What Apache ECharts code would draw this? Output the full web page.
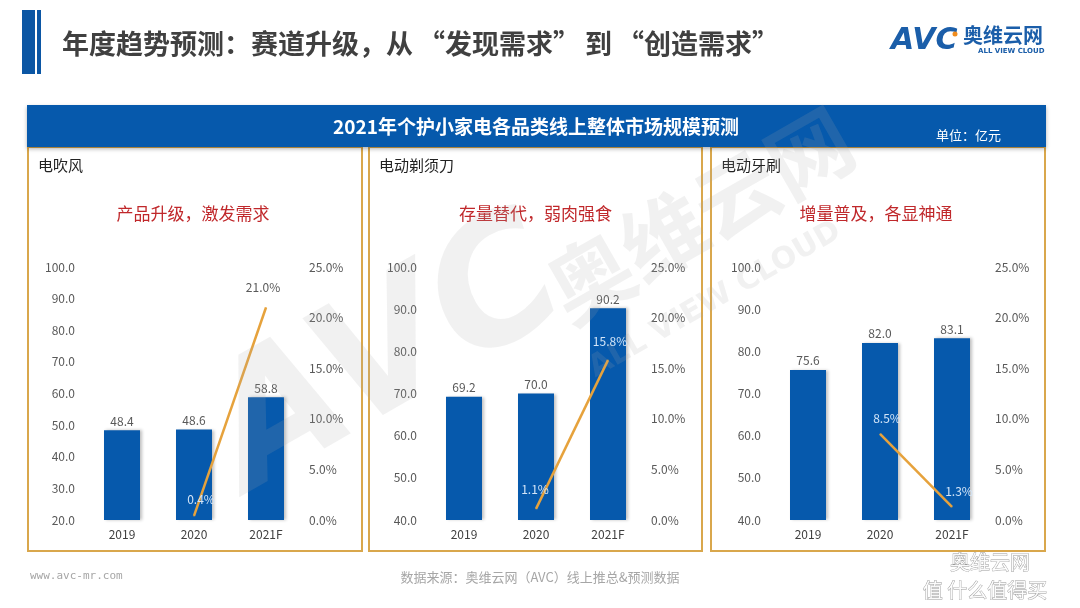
<!DOCTYPE html>
<html><head><meta charset="utf-8">
<script src="https://cdn.jsdelivr.net/npm/echarts@6/dist/echarts.min.js"></script>
<style>html,body{margin:0;padding:0;background:#fff}#c{width:1080px;height:608px}</style>
</head><body><div id="c"></div>
<script>
const categories = ['2019', '2020', '2021F'];
const dryerSales = [48.4, 48.6, 58.8];
const dryerGrowth = [null, 0.4, 21.0];
const shaverSales = [69.2, 70.0, 90.2];
const shaverGrowth = [null, 1.1, 15.8];
const brushSales = [75.6, 82.0, 83.1];
const brushGrowth = [null, 8.5, 1.3];
const panelNames = ['电吹风', '电动剃须刀', '电动牙刷'];
const panelSlogans = ['产品升级，激发需求', '存量替代，弱肉强食', '增量普及，各显神通'];
const leftAxisMin = [20, 40, 40];
const leftAxisMax = 100;
const rightAxisMax = 25;

const FONT = '"Noto Sans CJK SC", "Noto Sans", sans-serif';
const BLUE = '#0659ac';
const ORANGE = '#e6a23c';
const GOLD = '#d9a74c';

const sales = [dryerSales, shaverSales, brushSales];
const growth = [dryerGrowth, shaverGrowth, brushGrowth];
const gridLeft = [86, 428, 772];
// per-point label styling for growth line (placement only)
const IN = '#d3e5f8';
const lineLabelCfg = [
  [null, {color: IN, offset: [7, -5]}, {color: '#595959', offset: [-3, -9]}],
  [null, {color: IN, offset: [-1, -8]}, {color: IN, offset: [2, -7]}],
  [null, {color: IN, offset: [7, -4]}, {color: IN, offset: [7, -4]}]
];

const grids = [], xAxes = [], yAxes = [], series = [];
for (let i = 0; i < 3; i++) {
  grids.push({left: gridLeft[i], width: 216, top: 267, height: 253});
  xAxes.push({
    type: 'category', gridIndex: i, data: categories,
    axisLine: {show: false}, axisTick: {show: false},
    axisLabel: {color: '#404040', fontSize: 12, margin: 8, fontFamily: FONT}
  });
  yAxes.push({
    type: 'value', gridIndex: i, min: leftAxisMin[i], max: leftAxisMax, interval: 10,
    axisLine: {show: false}, axisTick: {show: false}, splitLine: {show: false},
    axisLabel: {color: '#595959', fontSize: 12, margin: 11, fontFamily: FONT,
      formatter: v => v.toFixed(1)}
  });
  yAxes.push({
    type: 'value', gridIndex: i, position: 'right', min: 0, max: rightAxisMax, interval: 5,
    axisLine: {show: false}, axisTick: {show: false}, splitLine: {show: false},
    axisLabel: {color: '#595959', fontSize: 12, margin: 7, fontFamily: FONT,
      formatter: v => v.toFixed(1) + '%'}
  });
  series.push({
    type: 'bar', xAxisIndex: i, yAxisIndex: i * 2, data: sales[i], barWidth: 36,
    itemStyle: {color: BLUE, shadowColor: 'rgba(0,0,0,0.25)', shadowBlur: 3, shadowOffsetX: 2, shadowOffsetY: 0},
    label: {show: true, position: 'top', distance: 3, color: '#595959', fontSize: 12, fontFamily: FONT,
      formatter: p => p.value.toFixed(1)}
  });
  series.push({
    type: 'line', xAxisIndex: i, yAxisIndex: i * 2 + 1, z: 5,
    data: growth[i].map((v, j) => v === null ? null : {
      value: v,
      label: {color: lineLabelCfg[i][j].color, offset: lineLabelCfg[i][j].offset}
    }),
    symbol: 'circle', symbolSize: 1, showSymbol: true,
    itemStyle: {color: ORANGE},
    lineStyle: {color: ORANGE, width: 2.5},
    label: {show: true, position: 'top', fontSize: 12, fontFamily: FONT,
      formatter: p => Number(p.value).toFixed(1) + '%'}
  });
}

const panelX = [[28, 362], [369, 702], [711, 1045]];
const graphic = [];
// page title
graphic.push({type: 'rect', shape: {x: 22, y: 10, width: 13, height: 64}, style: {fill: '#0b56a4'}});
graphic.push({type: 'rect', shape: {x: 37, y: 10, width: 4, height: 64}, style: {fill: '#0b56a4'}});
const TF = 'bold 27px ' + FONT;
graphic.push({type: 'text', x: 62, y: 44, style: {
  text: '年度趋势预测：赛道升级，从{ql|“}发现需求{qr|”}到{ql|“}创造需求{qr|”}',
  font: TF, fill: '#404040', textVerticalAlign: 'middle',
  rich: {ql: {padding: [0, 0, 0, 5], font: TF, fill: '#404040'},
         qr: {padding: [0, 5, 0, 0], font: TF, fill: '#404040'}}}});
// logo
graphic.push({type: 'text', left: 891, top: 26, style: {text: 'AVC', font: 'italic bold 30px "DejaVu Sans", sans-serif', fill: '#1b5ea9'}});
graphic.push({type: 'circle', shape: {cx: 955, cy: 34, r: 2.5}, style: {fill: '#f08c1e'}});
graphic.push({type: 'text', left: 963, top: 25, style: {text: '奥维云网', font: 'bold 20px ' + FONT, fill: '#1b5ea9'}});
graphic.push({type: 'text', left: 978, top: 48, style: {text: 'ALL VIEW CLOUD', font: 'bold 7px "DejaVu Sans", sans-serif', fill: '#1b5ea9'}});
// banner
graphic.push({type: 'rect', shape: {x: 27, y: 105, width: 1019, height: 42},
  style: {fill: '#0659ac', shadowColor: 'rgba(0,0,0,0.3)', shadowBlur: 4, shadowOffsetY: 2}});
graphic.push({type: 'text', x: 536, y: 127, style: {text: '2021年个护小家电各品类线上整体市场规模预测',
  font: 'bold 19px ' + FONT, fill: '#ffffff', textAlign: 'center', textVerticalAlign: 'middle'}});
graphic.push({type: 'text', x: 936, y: 135, style: {text: '单位：亿元',
  font: '13px ' + FONT, fill: '#ffffff', textAlign: 'left', textVerticalAlign: 'middle'}});
// panels
const sloganShift = [-2, 0, -2];
for (let i = 0; i < 3; i++) {
  const [x0, x1] = panelX[i];
  graphic.push({type: 'rect', z: -1, shape: {x: x0, y: 147, width: x1 - x0, height: 404},
    style: {fill: 'none', stroke: GOLD, lineWidth: 2}});
  graphic.push({type: 'text', x: x0 + 10, y: 165, style: {text: panelNames[i],
    font: '15px ' + FONT, fill: '#222222', textAlign: 'left', textVerticalAlign: 'middle'}});
  graphic.push({type: 'text', x: (x0 + x1) / 2 + sloganShift[i], y: 214, style: {text: panelSlogans[i],
    font: '17px ' + FONT, fill: '#c0282b', textAlign: 'center', textVerticalAlign: 'middle'}});
}
// watermark
const WM = 'rgba(170,170,170,0.16)';
graphic.push({type: 'text', x: 390, y: 360, rotation: 0.52, z: 100, style: {text: 'AVC',
  font: 'italic bold 170px "DejaVu Sans", sans-serif', fill: WM, textAlign: 'center', textVerticalAlign: 'middle'}});
graphic.push({type: 'text', x: 700, y: 215, rotation: 0.52, z: 100, style: {text: '奥维云网',
  font: 'bold 84px ' + FONT, fill: WM, textAlign: 'center', textVerticalAlign: 'middle'}});
graphic.push({type: 'text', x: 715, y: 300, rotation: 0.52, z: 100, style: {text: 'ALL VIEW CLOUD',
  font: 'bold 30px "DejaVu Sans", sans-serif', fill: WM, textAlign: 'center', textVerticalAlign: 'middle'}});
// footer
graphic.push({type: 'text', x: 30, y: 576, style: {text: 'www.avc-mr.com',
  font: '11px "DejaVu Sans Mono", monospace', fill: '#a6a6a6', textAlign: 'left', textVerticalAlign: 'middle'}});
graphic.push({type: 'text', x: 540, y: 577, style: {text: '数据来源：奥维云网（AVC）线上推总&预测数据',
  font: '13px ' + FONT, fill: '#a6a6a6', textAlign: 'center', textVerticalAlign: 'middle'}});
graphic.push({type: 'text', x: 990, y: 562, style: {text: '奥维云网',
  font: '20px ' + FONT, fill: 'rgba(255,255,255,0.9)', stroke: '#9a9a9a', lineWidth: 0.8, textAlign: 'center', textVerticalAlign: 'middle'}});
graphic.push({type: 'text', x: 985, y: 590, style: {text: '值 什么值得买',
  font: '20px ' + FONT, fill: 'rgba(255,255,255,0.9)', stroke: '#9a9a9a', lineWidth: 0.8, textAlign: 'center', textVerticalAlign: 'middle'}});

const chart = echarts.init(document.getElementById('c'), null, {renderer: 'canvas'});
chart.setOption({
  backgroundColor: '#ffffff',
  animation: false,
  textStyle: {fontFamily: FONT},
  grid: grids, xAxis: xAxes, yAxis: yAxes, series: series, graphic: graphic
});
</script></body></html>
